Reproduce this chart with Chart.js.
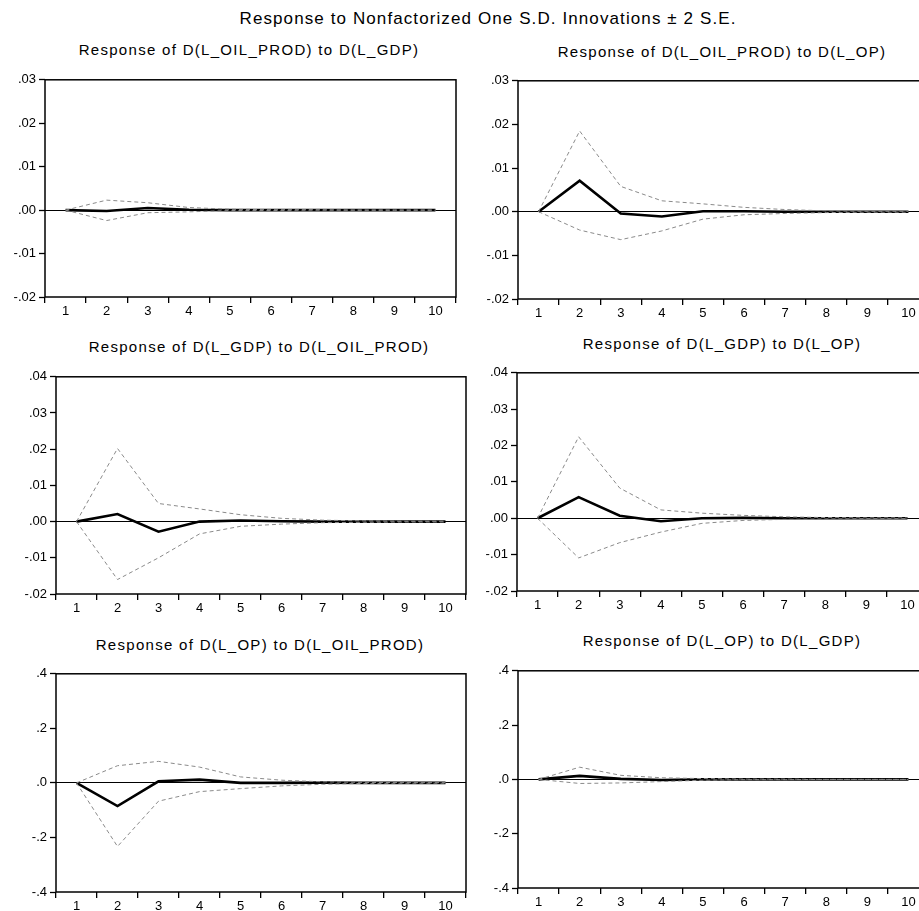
<!DOCTYPE html>
<html>
<head>
<meta charset="utf-8">
<script src="https://cdn.jsdelivr.net/npm/chart.js@4/dist/chart.umd.min.js"></script>
<style>
  body { margin: 0; width: 919px; height: 911px; overflow: hidden; background: #fff; position: relative;
         font-family: "Liberation Sans", Arial, sans-serif; }
  canvas { position: absolute; }
  .ttl { position: absolute; width: 600px; text-align: center; color: #000; white-space: nowrap; }
</style>
</head>
<body>
<div class="ttl" style="font-size:17px;line-height:17px;letter-spacing:1.1px;left:188px;top:10px">Response to Nonfactorized One S.D. Innovations ± 2 S.E.</div>
<script>
const periods = ['1', '2', '3', '4', '5', '6', '7', '8', '9', '10'];

// Response of D(L_OIL_PROD) to D(L_GDP)
const oilGdpResp  = [0, -0.0002, 0.0005, 0.0001, 0.0000, 0.0000, 0, 0, 0, 0];
const oilGdpUpper = [0, 0.0023, 0.0017, 0.0006, 0.0002, 0.0001, 0.0001, 0, 0, 0];
const oilGdpLower = [0, -0.0024, -0.0006, -0.0004, -0.0001, -0.0001, 0, 0, 0, 0];

// Response of D(L_OIL_PROD) to D(L_OP)
const oilOpResp  = [0, 0.0071, -0.0004, -0.0011, 0.0001, 0.0001, 0, 0, 0, 0];
const oilOpUpper = [0, 0.0185, 0.0058, 0.0025, 0.0018, 0.0010, 0.0005, 0.0002, 0.0001, 0.0001];
const oilOpLower = [0, -0.0042, -0.0064, -0.0044, -0.0017, -0.0007, -0.0004, -0.0002, -0.0001, -0.0001];

// Response of D(L_GDP) to D(L_OIL_PROD)
const gdpOilResp  = [0, 0.0021, -0.0028, 0.0000, 0.0003, 0.0001, 0, 0, 0, 0];
const gdpOilUpper = [0, 0.0202, 0.0050, 0.0035, 0.0019, 0.0009, 0.0004, 0.0002, 0.0001, 0.0001];
const gdpOilLower = [0, -0.0160, -0.0100, -0.0034, -0.0013, -0.0007, -0.0003, -0.0002, -0.0001, -0.0001];

// Response of D(L_GDP) to D(L_OP)
const gdpOpResp  = [0, 0.0058, 0.0007, -0.0008, 0.0000, 0.0001, 0, 0, 0, 0];
const gdpOpUpper = [0, 0.0224, 0.0083, 0.0023, 0.0014, 0.0008, 0.0004, 0.0002, 0.0001, 0.0001];
const gdpOpLower = [0, -0.0109, -0.0067, -0.0038, -0.0014, -0.0006, -0.0003, -0.0002, -0.0001, -0.0001];

// Response of D(L_OP) to D(L_OIL_PROD)
const opOilResp  = [0, -0.085, 0.006, 0.012, 0.000, 0.000, 0.001, 0, 0, 0];
const opOilUpper = [0, 0.063, 0.079, 0.058, 0.022, 0.010, 0.004, 0.002, 0.001, 0.001];
const opOilLower = [0, -0.233, -0.067, -0.032, -0.021, -0.011, -0.005, -0.002, -0.001, -0.001];

// Response of D(L_OP) to D(L_GDP)
const opGdpResp  = [0, 0.013, 0.002, -0.002, 0.000, 0, 0, 0, 0, 0];
const opGdpUpper = [0, 0.045, 0.015, 0.006, 0.003, 0.001, 0.001, 0, 0, 0];
const opGdpLower = [0, -0.015, -0.013, -0.008, -0.003, -0.001, -0.001, 0, 0, 0];

// y axis ranges [min, max, step, decimals]
const smallRange = [-0.02, 0.03, 0.01, 2];
const midRange   = [-0.02, 0.04, 0.01, 2];
const opRange    = [-0.4, 0.4, 0.2, 1];

const panels = [
  { title: 'Response of D(L_OIL_PROD) to D(L_GDP)', resp: oilGdpResp, up: oilGdpUpper, lo: oilGdpLower, range: smallRange,
    box: [45, 79, 456, 297], tx: 249, ty: 43 },
  { title: 'Response of D(L_OIL_PROD) to D(L_OP)', resp: oilOpResp, up: oilOpUpper, lo: oilOpLower, range: smallRange,
    box: [518, 80, 929, 299], tx: 722, ty: 45 },
  { title: 'Response of D(L_GDP) to D(L_OIL_PROD)', resp: gdpOilResp, up: gdpOilUpper, lo: gdpOilLower, range: midRange,
    box: [56, 376, 466, 594], tx: 259, ty: 340 },
  { title: 'Response of D(L_GDP) to D(L_OP)', resp: gdpOpResp, up: gdpOpUpper, lo: gdpOpLower, range: midRange,
    box: [517, 372, 928, 591], tx: 722, ty: 337 },
  { title: 'Response of D(L_OP) to D(L_OIL_PROD)', resp: opOilResp, up: opOilUpper, lo: opOilLower, range: opRange,
    box: [56, 673, 466, 892], tx: 260, ty: 638 },
  { title: 'Response of D(L_OP) to D(L_GDP)', resp: opGdpResp, up: opGdpUpper, lo: opGdpLower, range: opRange,
    box: [518, 670, 929, 888], tx: 722, ty: 634 }
];

const Y_W = 50, X_H = 25, PAD_T = 10, PAD_R = 10;
const tickFont = { family: '"Liberation Sans", Arial, sans-serif', size: 13 };

// frame round the plot area
const frame = {
  id: 'frame',
  afterDraw(chart) {
    const a = chart.chartArea, c = chart.ctx;
    c.save();
    c.strokeStyle = '#000';
    c.lineWidth = 1.5;
    c.strokeRect(a.left, a.top, a.right - a.left, a.bottom - a.top);
    c.restore();
  }
};

function fmt(v, dec) {
  let s = Math.abs(v) < 1e-9 ? (0).toFixed(dec) : v.toFixed(dec);
  return s.replace(/^(-?)0\./, '$1.');
}

panels.forEach(p => {
  const [l, t, r, b] = p.box;
  const t1 = document.createElement('div');
  t1.className = 'ttl';
  t1.style.cssText = `font-size:15px;line-height:15px;letter-spacing:1.3px;left:${p.tx - 300}px;top:${p.ty - 1}px`;
  t1.textContent = p.title;
  document.body.appendChild(t1);

  const cv = document.createElement('canvas');
  const w = r - l + Y_W + PAD_R, h = b - t + PAD_T + X_H;
  cv.width = w; cv.height = h;
  cv.style.left = (l - Y_W) + 'px';
  cv.style.top = (t - PAD_T) + 'px';
  cv.style.width = w + 'px'; cv.style.height = h + 'px';
  document.body.appendChild(cv);

  const [ymin, ymax, step, dec] = p.range;
  new Chart(cv.getContext('2d'), {
    type: 'line',
    data: {
      labels: periods,
      datasets: [
        { data: p.up, borderColor: '#8a8a8a', borderWidth: 1, borderDash: [4, 3], pointRadius: 0, tension: 0 },
        { data: p.lo, borderColor: '#8a8a8a', borderWidth: 1, borderDash: [4, 3], pointRadius: 0, tension: 0 },
        { data: p.resp, borderColor: '#000', borderWidth: 2.6, pointRadius: 0, tension: 0 }
      ]
    },
    options: {
      responsive: false,
      animation: false,
      events: [],
      layout: { padding: { top: PAD_T, right: PAD_R, left: 0, bottom: 0 } },
      plugins: { legend: { display: false }, tooltip: { enabled: false } },
      scales: {
        x: {
          offset: true,
          afterFit: s => { s.height = X_H; },
          border: { display: false },
          grid: { offset: true, drawOnChartArea: false, drawTicks: true, tickLength: 6, color: '#000', lineWidth: 1.3 },
          ticks: { color: '#000', padding: 1, maxRotation: 0, autoSkip: false, font: tickFont }
        },
        y: {
          min: ymin,
          max: ymax,
          afterFit: s => { s.width = Y_W; },
          border: { display: false },
          grid: {
            drawTicks: true,
            tickLength: 6,
            tickColor: '#000',
            tickWidth: 1.3,
            lineWidth: 1,
            color: ctx => (ctx.tick && Math.abs(ctx.tick.value) < 1e-9) ? '#000' : 'rgba(0,0,0,0)'
          },
          ticks: {
            stepSize: step,
            color: '#000',
            padding: 3,
            font: tickFont,
            callback: v => fmt(v, dec)
          }
        }
      }
    },
    plugins: [frame]
  });
});
</script>
</body>
</html>
